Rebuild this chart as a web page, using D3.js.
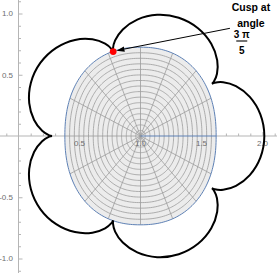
<!DOCTYPE html>
<html><head><meta charset="utf-8">
<script src="https://cdn.jsdelivr.net/npm/d3@7"></script>
<style>html,body{margin:0;padding:0;background:#fff;} svg{display:block;}</style>
</head><body>
<svg id="c" width="277" height="273"></svg>
<script>
// ---- data ----
const xTicks = [0.5, 1.0, 1.5, 2.0];
const xTickLabels = ["0.5", "1.0", "1.5", "2.0"];
const yTicks = [1.0, 0.5, -0.5, -1.0];
const yTickLabels = ["1.0", "0.5", "-0.5", "-1.0"];

// base region (rounded polar mesh)
const diskCenter = [1.0, 0.0];
const diskSemiX = 0.62;
const diskSemiY = 0.725;
const diskExponent = 2.25;
const meshRings = 15;
const meshSectors = 16;

// curve lobes (cusp to cusp)
const lobeTop = [[1.5865,0.4261],[1.6017,0.4442],[1.6269,0.5086],[1.6287,0.6186],[1.5800,0.7534],[1.4712,0.8800],[1.3137,0.9653],[1.1361,0.9889],[0.9736,0.9504],[0.8550,0.8700],[0.7918,0.7800],[0.7743,0.7131],[0.7760,0.6895]];
const lobeUpperLeft = [[0.7760,0.6895],[0.7635,0.7095],[0.7100,0.7534],[0.6059,0.7891],[0.4627,0.7845],[0.3087,0.7200],[0.1788,0.5966],[0.1016,0.4350],[0.0879,0.2686],[0.1278,0.1309],[0.1939,0.0430],[0.2521,0.0057],[0.2750,0.0]];
const lobeLowerLeft = [[0.2750,0.0],[0.2521,-0.0057],[0.1939,-0.0430],[0.1278,-0.1309],[0.0879,-0.2686],[0.1016,-0.4350],[0.1788,-0.5966],[0.3087,-0.7200],[0.4627,-0.7845],[0.6059,-0.7891],[0.7100,-0.7534],[0.7635,-0.7095],[0.7760,-0.6895]];
const lobeBottom = [[0.7760,-0.6895],[0.7743,-0.7131],[0.7918,-0.7800],[0.8550,-0.8700],[0.9736,-0.9504],[1.1361,-0.9889],[1.3137,-0.9653],[1.4712,-0.8800],[1.5800,-0.7534],[1.6287,-0.6186],[1.6269,-0.5086],[1.6017,-0.4442],[1.5865,-0.4261]];
const lobeRight = [[1.5865,-0.4261],[1.6084,-0.4350],[1.6775,-0.4391],[1.7826,-0.4068],[1.8958,-0.3188],[1.9825,-0.1762],[2.0150,0.0],[1.9825,0.1762],[1.8958,0.3188],[1.7826,0.4068],[1.6775,0.4391],[1.6084,0.4350],[1.5865,0.4261]];
const lobes = [lobeTop, lobeUpperLeft, lobeLowerLeft, lobeBottom, lobeRight];

const cuspPoint = [0.776, 0.6895];
const annotationLines = ["Cusp at", "angle"];
const annotationNum = "3 π";
const annotationDen = "5";

// ---- drawing ----
const W = 277, H = 273;
const svg = d3.select("#c");
const x = d3.scaleLinear().domain([0, 2]).range([18.5, 262.5]);
const y = d3.scaleLinear().domain([-1, 1]).range([258.5, 13.5]);

const axisColor = "#b5b5b5";
const labelColor = "#6e6e6e";

// axis lines
const gAx = svg.append("g");
gAx.append("line").attr("x1", 0).attr("x2", W).attr("y1", y(0)).attr("y2", y(0))
  .attr("stroke", axisColor).attr("stroke-width", 1);
gAx.append("line").attr("x1", x(0)).attr("x2", x(0)).attr("y1", 0).attr("y2", H)
  .attr("stroke", axisColor).attr("stroke-width", 1);

// ticks (marks only)
const xMinor = d3.range(-1, 22).map(i => i / 10).filter(v => Math.abs(v * 2 - Math.round(v * 2)) > 1e-6);
const yMinor = d3.range(-11, 12).map(i => i / 10).filter(v => Math.abs(v * 2 - Math.round(v * 2)) > 1e-6);
function tickMarks(g, axis) {
  g.call(axis);
  g.select(".domain").remove();
  g.selectAll(".tick line").attr("stroke", axisColor);
  g.selectAll(".tick text").remove();
}
tickMarks(svg.append("g").attr("transform", `translate(0,${y(0)})`),
  d3.axisBottom(x).tickValues(xTicks).tickSizeInner(-4).tickSizeOuter(0));
tickMarks(svg.append("g").attr("transform", `translate(0,${y(0)})`),
  d3.axisBottom(x).tickValues(xMinor).tickSizeInner(-2.5).tickSizeOuter(0));
tickMarks(svg.append("g").attr("transform", `translate(${x(0)},0)`),
  d3.axisLeft(y).tickValues(yTicks).tickSizeInner(-4).tickSizeOuter(0));
tickMarks(svg.append("g").attr("transform", `translate(${x(0)},0)`),
  d3.axisLeft(y).tickValues(yMinor).tickSizeInner(-2.5).tickSizeOuter(0));

// rounded region with polar mesh
const line = d3.line().x(d => x(d[0])).y(d => y(d[1]));
const e = 2 / diskExponent;
const sp = (v) => Math.sign(v) * Math.pow(Math.abs(v), e);
const shapePt = (s, t) => [diskCenter[0] + s * diskSemiX * sp(Math.cos(t)), diskCenter[1] + s * diskSemiY * sp(Math.sin(t))];
const ringPts = (s) => d3.range(0, 360.5, 1.5).map(a => shapePt(s, a * Math.PI / 180));
const outline = ringPts(1);

const gDisk = svg.append("g");
gDisk.append("path").attr("d", line(outline) + "Z").attr("fill", "#ececec").attr("stroke", "none");

const gMesh = gDisk.append("g").attr("fill", "none").attr("stroke", "#9c9c9c").attr("stroke-width", 0.8);
for (let k = 1; k <= meshRings; k++) {
  gMesh.append("path").attr("d", line(ringPts(k / (meshRings + 1))) + "Z");
}
for (let j = 1; j < meshSectors; j++) {
  const t = j * 2 * Math.PI / meshSectors;
  gMesh.append("path").attr("d", line([diskCenter, shapePt(1, t)]));
}
// boundary + seam
const blue = "#5e81b5";
gDisk.append("path").attr("d", line(outline) + "Z").attr("fill", "none").attr("stroke", blue).attr("stroke-width", 1);
gDisk.append("path").attr("d", line([diskCenter, shapePt(1, 0)])).attr("fill", "none").attr("stroke", blue).attr("stroke-width", 1);

// tick labels
const gLab = svg.append("g").attr("font-family", "'Liberation Sans', Arial, sans-serif")
  .attr("font-size", 8).attr("fill", labelColor);
xTicks.forEach((v, i) => {
  gLab.append("text").attr("x", x(v)).attr("y", y(0) + 10.3).attr("text-anchor", "middle").text(xTickLabels[i]);
});
yTicks.forEach((v, i) => {
  gLab.append("text").attr("x", x(0) - 5.5).attr("y", y(v) + 2.9).attr("text-anchor", "end").text(yTickLabels[i]);
});

// curve
const curveLine = d3.line().x(d => x(d[0])).y(d => y(d[1])).curve(d3.curveCatmullRom.alpha(0.5));
const gCurve = svg.append("g").attr("fill", "none").attr("stroke", "#000").attr("stroke-width", 2)
  .attr("stroke-linejoin", "miter").attr("stroke-miterlimit", 2);
lobes.forEach(l => gCurve.append("path").attr("d", curveLine(l)));

// annotation arrow
const arrowFrom = [x(1.733), y(0.879)];
const tip = [x(cuspPoint[0]) + 3.3, y(cuspPoint[1]) - 0.9];
const dx = tip[0] - arrowFrom[0], dy = tip[1] - arrowFrom[1];
const len = Math.hypot(dx, dy), ux = dx / len, uy = dy / len;
const headL = 8, headW = 2.6;
const base = [tip[0] - ux * headL, tip[1] - uy * headL];
svg.append("line").attr("x1", arrowFrom[0]).attr("y1", arrowFrom[1]).attr("x2", base[0]).attr("y2", base[1])
  .attr("stroke", "#000").attr("stroke-width", 1);
svg.append("path").attr("d", `M${tip[0]},${tip[1]}L${base[0] - uy * headW},${base[1] + ux * headW}L${base[0] + uy * headW},${base[1] - ux * headW}Z`)
  .attr("fill", "#000");

// red cusp point
svg.append("circle").attr("cx", x(cuspPoint[0])).attr("cy", y(cuspPoint[1])).attr("r", 3.4).attr("fill", "#ff0000");

// annotation text
const gT = svg.append("g").attr("font-family", "'Liberation Sans', Arial, sans-serif")
  .attr("font-weight", "bold").attr("fill", "#000").attr("text-anchor", "middle");
const tx = x(1.905);
gT.append("text").attr("x", tx).attr("y", 11).attr("font-size", 10.5).text(annotationLines[0]);
gT.append("text").attr("x", tx).attr("y", 26.5).attr("font-size", 10.5).text(annotationLines[1]);
const fx = x(1.83);
gT.append("text").attr("x", fx).attr("y", 38).attr("font-size", 10).text(annotationNum);
gT.append("line").attr("x1", fx - 5.5).attr("x2", fx + 5.5).attr("y1", 41).attr("y2", 41).attr("stroke", "#000").attr("stroke-width", 1.1);
gT.append("text").attr("x", fx).attr("y", 54).attr("font-size", 10).text(annotationDen);
</script>
</body></html>
